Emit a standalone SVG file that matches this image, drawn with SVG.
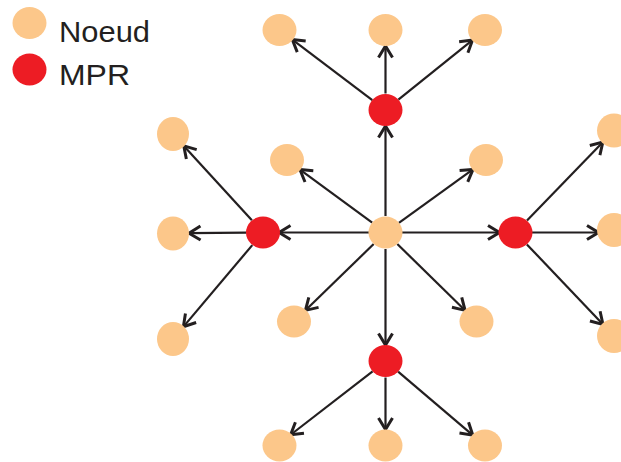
<svg xmlns="http://www.w3.org/2000/svg" width="621" height="462" viewBox="0 0 621 462">
<style>
.n{fill:#fcc78a}
.m{fill:#ed1c24}
.e{stroke:#231f20;stroke-width:2.2;fill:none;marker-end:url(#ah)}
.t{font-family:"Liberation Sans",Arial,sans-serif;font-size:29px;fill:#231f20}
</style>
<defs>
<marker id="ah" markerUnits="userSpaceOnUse" viewBox="-15 -10 17 20" markerWidth="17" markerHeight="20" refX="-1" refY="0" orient="auto">
<path d="M-12,-7 L-0.5,0 L-12,7" fill="none" stroke="#231f20" stroke-width="3" stroke-linejoin="miter"/>
</marker>
</defs>
<g id="legend">
<ellipse class="n" cx="29.5" cy="23" rx="17" ry="16"/>
<text class="t" x="59" y="42" textLength="91" lengthAdjust="spacingAndGlyphs">Noeud</text>
<ellipse class="m" cx="29.5" cy="69.5" rx="17" ry="16"/>
<text class="t" x="59" y="85" textLength="71" lengthAdjust="spacingAndGlyphs">MPR</text>
</g>
<g id="edges">
<line class="e" x1="372.3" y1="100.1" x2="292.7" y2="39.9"/>
<line class="e" x1="385.5" y1="93.5" x2="385.5" y2="46.5"/>
<line class="e" x1="398.4" y1="99.7" x2="472.1" y2="40.3"/>
<line class="e" x1="385.5" y1="216" x2="385.5" y2="126.5"/>
<line class="e" x1="372.2" y1="222.7" x2="300.3" y2="169.8"/>
<line class="e" x1="398.9" y1="222.8" x2="472.6" y2="169.7"/>
<line class="e" x1="369" y1="232.5" x2="279.5" y2="232.5"/>
<line class="e" x1="402" y1="232.5" x2="499" y2="232.5"/>
<line class="e" x1="373.7" y1="244" x2="305.8" y2="310"/>
<line class="e" x1="397.3" y1="244" x2="464.7" y2="310"/>
<line class="e" x1="385.5" y1="249" x2="385.5" y2="344.5"/>
<line class="e" x1="251.9" y1="220.3" x2="184.1" y2="146.2"/>
<line class="e" x1="246.5" y1="232.6" x2="189.5" y2="233.2"/>
<line class="e" x1="252.3" y1="245.1" x2="183.7" y2="326.4"/>
<line class="e" x1="527" y1="220.6" x2="602.5" y2="142.4"/>
<line class="e" x1="532" y1="232.5" x2="598" y2="232.5"/>
<line class="e" x1="526.9" y1="244.4" x2="602.6" y2="324.1"/>
<line class="e" x1="372.6" y1="371.3" x2="291" y2="434.5"/>
<line class="e" x1="385.5" y1="377.5" x2="385.5" y2="429"/>
<line class="e" x1="398.1" y1="371.7" x2="472.4" y2="434.8"/>
</g>
<g id="n-center"><ellipse class="n" cx="385.5" cy="232.5" rx="17" ry="16"/></g>
<g id="mpr-top"><ellipse class="m" cx="385.5" cy="110" rx="17" ry="16"/></g>
<g id="mpr-bottom"><ellipse class="m" cx="385.5" cy="361" rx="17" ry="16"/></g>
<g id="mpr-left"><ellipse class="m" cx="263" cy="232.5" rx="17" ry="16"/></g>
<g id="mpr-right"><ellipse class="m" cx="515.5" cy="232.5" rx="17" ry="16"/></g>
<g id="n-top-left"><ellipse class="n" cx="279.5" cy="30" rx="17" ry="16"/></g>
<g id="n-top-mid"><ellipse class="n" cx="385.5" cy="30" rx="17" ry="16"/></g>
<g id="n-top-right"><ellipse class="n" cx="485" cy="30" rx="17" ry="16"/></g>
<g id="n-upper-left"><ellipse class="n" cx="287" cy="160" rx="17" ry="16"/></g>
<g id="n-upper-right"><ellipse class="n" cx="486" cy="160" rx="17" ry="16"/></g>
<g id="n-lower-left"><ellipse class="n" cx="294" cy="321.5" rx="17" ry="16"/></g>
<g id="n-lower-right"><ellipse class="n" cx="476.5" cy="321.5" rx="17" ry="16"/></g>
<g id="n-left-1"><ellipse class="n" cx="173" cy="134" rx="16" ry="17"/></g>
<g id="n-left-2"><ellipse class="n" cx="173" cy="233.5" rx="16" ry="17"/></g>
<g id="n-left-3"><ellipse class="n" cx="173" cy="339" rx="16" ry="17"/></g>
<g id="n-right-1"><ellipse class="n" cx="614" cy="130.5" rx="17" ry="17"/></g>
<g id="n-right-2"><ellipse class="n" cx="614" cy="230" rx="17" ry="17"/></g>
<g id="n-right-3"><ellipse class="n" cx="614" cy="336" rx="17" ry="17"/></g>
<g id="n-bottom-left"><ellipse class="n" cx="279.5" cy="445.5" rx="17" ry="16"/></g>
<g id="n-bottom-mid"><ellipse class="n" cx="385.5" cy="445.5" rx="17" ry="16"/></g>
<g id="n-bottom-right"><ellipse class="n" cx="485" cy="445.5" rx="17" ry="16"/></g>
</svg>
